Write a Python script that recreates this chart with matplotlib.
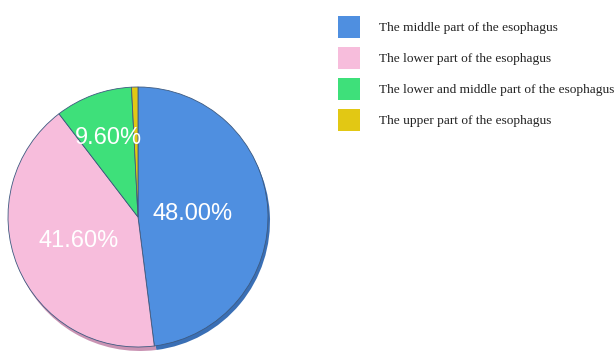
import numpy as np
import matplotlib
matplotlib.use("Agg")
import matplotlib.pyplot as plt
from matplotlib.patches import Rectangle

# dane
czesci = ["The middle part of the esophagus",
          "The lower part of the esophagus",
          "The lower and middle part of the esophagus",
          "The upper part of the esophagus"]
procenty = [48.00, 41.60, 9.60, 0.80]
kolory = ["#4f8fe0", "#f7bddc", "#3ee07a", "#e2c814"]
cienie = ["#3a6fb5", "#c993b3", "#2fb060", "#b09c10"]
odleglosci = [0.42, 0.49, 0.65, 0.0]  # jak daleko od środka stoją etykiety


def main():
    fig = plt.figure(figsize=(6.14, 3.51), dpi=100)
    ax = fig.add_axes([0, 0, 1, 1])
    ax.set_xlim(0, 614)
    ax.set_ylim(0, 351)
    ax.set_aspect("equal")
    ax.axis("off")

    srodek = (138, 134)
    r = 130

    # cień pod kołem (efekt 3D)
    ax.pie(procenty, colors=cienie, startangle=90, counterclock=False,
           center=(srodek[0] + 2, srodek[1] - 4), radius=r,
           wedgeprops=dict(linewidth=0))

    kawalki, _, teksty = ax.pie(
        procenty, colors=kolory, startangle=90, counterclock=False,
        center=srodek, radius=r,
        autopct=lambda p: f"{p:.2f}%" if p > 2 else "",
        wedgeprops=dict(linewidth=0.6, edgecolor="#3d5a80"),
        textprops=dict(color="white", fontsize=17, family="Liberation Sans"))

    # przesunięcie etykiet na miejsca z oryginału
    for klin, t, d in zip(kawalki, teksty, odleglosci):
        kat = np.deg2rad((klin.theta1 + klin.theta2) / 2)
        t.set_position((srodek[0] + d * r * np.cos(kat),
                        srodek[1] + d * r * np.sin(kat)))
        t.set_ha("center")
        t.set_va("center")

    ax.set_xlim(0, 614)
    ax.set_ylim(0, 351)

    fs = 9.6
    kwadraty = [Rectangle((0, 0), 1, 1, facecolor=k, edgecolor="none") for k in kolory]
    ax.legend(kwadraty, czesci, loc="upper left",
              bbox_to_anchor=(338 / 614, 1 - 16 / 351),
              bbox_transform=fig.transFigure,
              frameon=False, borderpad=0, borderaxespad=0,
              handlelength=22 / (fs * 1.389), handleheight=2.16,
              handletextpad=1.45, labelspacing=0.675,
              prop=dict(family="Liberation Serif", size=fs),
              labelcolor="#222222")

    fig.savefig("out.png", dpi=100)
    return 0


main()
